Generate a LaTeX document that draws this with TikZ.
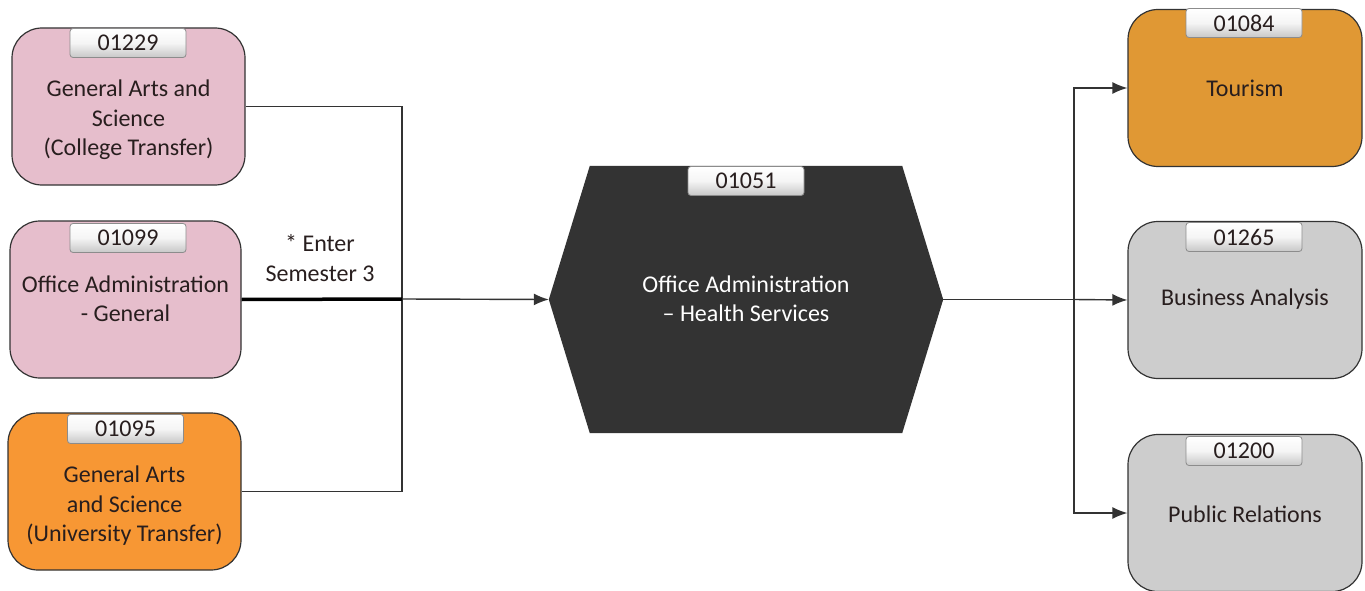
\documentclass[tikz,border=0pt]{standalone}
\usepackage{fontspec}
\setmainfont{Carlito}
\usetikzlibrary{arrows.meta,calc}
\definecolor{pinkbox}{RGB}{230,190,204}
\definecolor{orangebox}{RGB}{247,151,52}
\definecolor{tourbox}{RGB}{224,152,52}
\definecolor{graybox}{RGB}{205,205,205}
\definecolor{hexfill}{RGB}{51,51,51}
\definecolor{txt}{RGB}{40,30,30}
\begin{document}
\begin{tikzpicture}[x=1pt,y=-1pt,
  box/.style={draw=black!80,line width=1.2pt,rounded corners=30pt,minimum width=#1,minimum height=157pt,inner sep=0pt},
  tab/.style={draw=black!45,line width=0.8pt,rounded corners=3pt,top color=white,bottom color=black!22,middle color=black!4,minimum width=116pt,minimum height=29pt,inner sep=0pt,font=\fontsize{24}{28}\selectfont,text=txt},
  lbl/.style={align=center,font=\fontsize{24}{29.5}\selectfont,text=txt},
  conn/.style={draw=black!80,line width=1.4pt},
  arr/.style={conn,-{Latex[length=15pt,width=12pt]}}]
\useasboundingbox (0,0) rectangle (1365,591);
% left boxes
\node[box=233pt,fill=pinkbox] (b1) at (128.5,106.5) {};
\node[tab] (t1) at (128,43) {01229};
\node[lbl] (l1) at (128.5,120) {General Arts and\\Science\\(College Transfer)};
\node[box=231pt,fill=pinkbox] (b2) at (125.5,299.5) {};
\node[tab] (t2) at (128,238) {01099};
\node[lbl] (l2) at (125.5,299) {Office Administration\\- General};
\node[box=233pt,fill=orangebox] (b3) at (124.5,491.5) {};
\node[tab] (t3) at (125.5,429) {01095};
\node[lbl] (l3) at (124.5,506) {General Arts\\and Science\\(University Transfer)};
% centre hexagon
\node[minimum width=394pt,minimum height=267pt,inner sep=0pt] (hex) at (746,299.5) {};
\fill[hexfill] (hex.west) -- ($(hex.north west)+(41,0)$) -- ($(hex.north east)+(-41,0)$) -- (hex.east) -- ($(hex.south east)+(-41,0)$) -- ($(hex.south west)+(41,0)$) -- cycle;
\node[tab] (t4) at (746,181) {01051};
\node[lbl,text=white] (l4) at (746,299) {Office Administration\\– Health Services};
% right boxes
\node[box=234pt,fill=tourbox] (r1) at (1245,88) {};
\node[tab] (t5) at (1244,23) {01084};
\node[lbl] (l5) at (1245,88) {Tourism};
\node[box=234pt,fill=graybox] (r2) at (1245,300) {};
\node[tab] (t6) at (1244,237) {01265};
\node[lbl] (l6) at (1245,299) {Business Analysis};
\node[box=234pt,fill=graybox] (r3) at (1245,513) {};
\node[tab] (t7) at (1244,451) {01200};
\node[lbl] (l7) at (1245,514) {Public Relations};
% connectors
\coordinate (j) at (402,299);
\draw[conn] (b1.east) -| (j);
\draw[conn] (b3.east) -| (j);
\draw[draw=black,line width=3.5pt] (b2.east) -- (j);
\draw[arr] (j) -- (hex.west);
\node[lbl] (note) at (320,258) {* Enter\\Semester 3};
\coordinate (k) at (1074,299.5);
\draw[conn] (hex.east) -- (k);
\draw[arr] (k) |- (r1.west);
\draw[arr] (k) -- (r2.west);
\draw[arr] (k) |- (r3.west);
\end{tikzpicture}
\end{document}
